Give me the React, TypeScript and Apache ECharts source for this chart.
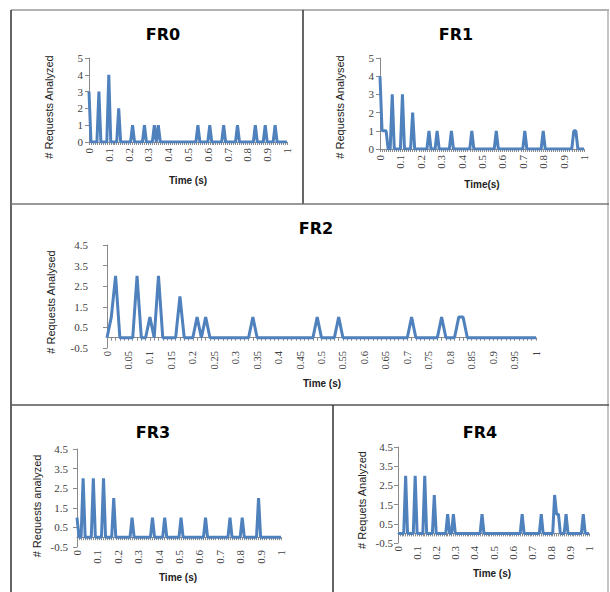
import React, { useEffect, useRef } from "react";
import * as echarts from "echarts";

// Time categories 0, 0.01, ... , 1
const TIME: string[] = Array.from({ length: 101 }, (_, i) => String(i / 100));

// # requests analysed per time slot
const FR0 = [
  3, 0, 0, 0, 0, 3, 0, 0, 0, 0,
  4, 0, 0, 0, 0, 2, 0, 0, 0, 0,
  0, 0, 1, 0, 0, 0, 0, 0, 1, 0,
  0, 0, 0, 1, 0, 1, 0, 0, 0, 0,
  0, 0, 0, 0, 0, 0, 0, 0, 0, 0,
  0, 0, 0, 0, 0, 1, 0, 0, 0, 0,
  0, 1, 0, 0, 0, 0, 0, 0, 1, 0,
  0, 0, 0, 0, 0, 1, 0, 0, 0, 0,
  0, 0, 0, 0, 1, 0, 0, 0, 0, 1,
  0, 0, 0, 0, 1, 0, 0, 0, 0, 0,
  0,
];
const FR1 = [
  4, 1, 1, 1, 0, 0, 3, 0, 0, 0,
  0, 3, 0, 0, 0, 0, 2, 0, 0, 0,
  0, 0, 0, 0, 1, 0, 0, 0, 1, 0,
  0, 0, 0, 0, 0, 1, 0, 0, 0, 0,
  0, 0, 0, 0, 0, 1, 0, 0, 0, 0,
  0, 0, 0, 0, 0, 0, 0, 1, 0, 0,
  0, 0, 0, 0, 0, 0, 0, 0, 0, 0,
  0, 1, 0, 0, 0, 0, 0, 0, 0, 0,
  1, 0, 0, 0, 0, 0, 0, 0, 0, 0,
  0, 0, 0, 0, 0, 1, 1, 0, 0, 0,
  0,
];
const FR2 = [
  0, 1, 3, 0, 0, 0, 0, 3, 0, 0,
  1, 0, 3, 0, 0, 0, 0, 2, 0, 0,
  0, 1, 0, 1, 0, 0, 0, 0, 0, 0,
  0, 0, 0, 0, 1, 0, 0, 0, 0, 0,
  0, 0, 0, 0, 0, 0, 0, 0, 0, 1,
  0, 0, 0, 0, 1, 0, 0, 0, 0, 0,
  0, 0, 0, 0, 0, 0, 0, 0, 0, 0,
  0, 1, 0, 0, 0, 0, 0, 0, 1, 0,
  0, 0, 1, 1, 0, 0, 0, 0, 0, 0,
  0, 0, 0, 0, 0, 0, 0, 0, 0, 0,
  0,
];
const FR3 = [
  1, 0, 0, 3, 0, 0, 0, 0, 3, 0,
  0, 0, 0, 3, 0, 0, 0, 0, 2, 0,
  0, 0, 0, 0, 0, 0, 0, 1, 0, 0,
  0, 0, 0, 0, 0, 0, 0, 1, 0, 0,
  0, 0, 0, 1, 0, 0, 0, 0, 0, 0,
  0, 1, 0, 0, 0, 0, 0, 0, 0, 0,
  0, 0, 0, 1, 0, 0, 0, 0, 0, 0,
  0, 0, 0, 0, 0, 1, 0, 0, 0, 0,
  0, 1, 0, 0, 0, 0, 0, 0, 0, 2,
  0, 0, 0, 0, 0, 0, 0, 0, 0, 0,
  0,
];
const FR4 = [
  0, 0, 0, 0, 3, 0, 0, 0, 0, 3,
  0, 0, 0, 0, 3, 0, 0, 0, 0, 2,
  0, 0, 0, 0, 0, 0, 1, 0, 0, 1,
  0, 0, 0, 0, 0, 0, 0, 0, 0, 0,
  0, 0, 0, 0, 1, 0, 0, 0, 0, 0,
  0, 0, 0, 0, 0, 0, 0, 0, 0, 0,
  0, 0, 0, 0, 0, 1, 0, 0, 0, 0,
  0, 0, 0, 0, 0, 1, 0, 0, 0, 0,
  0, 0, 2, 1, 1, 0, 0, 0, 1, 0,
  0, 0, 0, 0, 0, 0, 0, 1, 0, 0,
  0,
];

const TITLES = ["FR0", "FR1", "FR2", "FR3", "FR4"];
const Y_NAMES = [
  "# Requests Analyzed",
  "# Requests Analysed",
  "# Requests Analysed",
  "# Requests analyzed",
  "# Requets Analyzed",
];
const X_NAMES = ["Time (s)", "Time(s)", "Time (s)", "Time (s)", "Time (s)"];
const SERIES = [FR0, FR1, FR2, FR3, FR4];

const LAYOUT = [
  { grid: { left: 89, top: 58, width: 198, height: 84 }, yMin: 0, yMax: 5, lblInt: 9, xMargin: 6, yMargin: 6, xFont: 11, title: [163, 34], yName: [49, 107], xName: [188, 180] },
  { grid: { left: 380, top: 58, width: 204, height: 91 }, yMin: 0, yMax: 5, lblInt: 9, xMargin: 6, yMargin: 6, xFont: 11, title: [456, 34], yName: [340, 107], xName: [482, 184] },
  { grid: { left: 107, top: 245, width: 429, height: 103 }, yMin: -0.5, yMax: 4.5, lblInt: 4, xMargin: 3, yMargin: 19, xFont: 10.5, title: [316, 228], yName: [51, 302], xName: [322, 383] },
  { grid: { left: 77, top: 449, width: 204, height: 98 }, yMin: -0.5, yMax: 4.5, lblInt: 9, xMargin: 3, yMargin: 9, xFont: 11, title: [153, 432], yName: [37, 506], xName: [178, 577] },
  { grid: { left: 398, top: 447, width: 191, height: 96 }, yMin: -0.5, yMax: 4.5, lblInt: 9, xMargin: 3, yMargin: 5, xFont: 11, title: [480, 432], yName: [362, 500], xName: [492, 573] },
];

const AXIS = "#8a8a8a";
const LABEL = "#404040";
const LINE = "#4F81BD";

function App() {
  const ref = useRef<HTMLDivElement>(null);
  useEffect(() => {
    if (!ref.current) return;
    const chart = echarts.init(ref.current, undefined, { renderer: "svg" });

    const border = (x1: number, y1: number, x2: number, y2: number, c: string, w = 1.5) => ({
      type: "line",
      shape: { x1, y1, x2, y2 },
      style: { stroke: c, lineWidth: w },
      silent: true,
    });

    const graphic: any[] = [
      border(11, 10, 609, 10, "#9a9a9a"),
      border(11, 10, 11, 592, "#333"),
      border(608, 10, 608, 592, "#b0b0b0"),
      border(303, 10, 303, 204, "#333"),
      border(11, 204, 609, 204, "#777"),
      border(11, 405, 609, 405, "#555"),
      border(333, 405, 333, 592, "#333"),
    ];
    LAYOUT.forEach((p, i) => {
      graphic.push({
        type: "text",
        x: p.title[0],
        y: p.title[1],
        style: { text: TITLES[i], font: "bold 16px 'DejaVu Sans'", fill: "#000", align: "center", verticalAlign: "middle" },
      });
      graphic.push({
        type: "text",
        x: p.yName[0],
        y: p.yName[1],
        rotation: Math.PI / 2,
        style: { text: Y_NAMES[i], font: "11px 'Liberation Sans Narrow', 'Liberation Sans'", fill: "#222", align: "center", verticalAlign: "middle" },
      });
      graphic.push({
        type: "text",
        x: p.xName[0],
        y: p.xName[1],
        style: { text: X_NAMES[i], font: "bold 10px 'Liberation Sans'", fill: "#222", align: "center", verticalAlign: "middle" },
      });
    });

    const option: any = {
      animation: false,
      backgroundColor: "#fff",
      grid: LAYOUT.map((p) => ({ ...p.grid, containLabel: false })),
      xAxis: LAYOUT.flatMap((p, i) => [
        {
          type: "category",
          gridIndex: i,
          data: TIME,
          boundaryGap: false,
          position: "bottom",
          axisLine: { show: false, onZero: false },
          axisTick: { show: false },
          axisLabel: {
            interval: p.lblInt,
            rotate: 90,
            margin: p.xMargin,
            fontSize: p.xFont,
            fontFamily: "'Liberation Serif'",
            color: LABEL,
          },
          splitLine: { show: false },
        },
        {
          type: "category",
          gridIndex: i,
          data: TIME,
          boundaryGap: false,
          position: "bottom",
          axisLine: { show: true, onZero: true, lineStyle: { color: AXIS, width: 1 } },
          axisTick: { show: true, interval: 0, length: 3, lineStyle: { color: AXIS } },
          axisLabel: { show: false },
          splitLine: { show: false },
        },
      ]),
      yAxis: LAYOUT.map((p, i) => ({
        type: "value",
        gridIndex: i,
        min: p.yMin,
        max: p.yMax,
        interval: 1,
        axisLine: { show: true, lineStyle: { color: AXIS } },
        axisTick: { show: true, length: 4, lineStyle: { color: AXIS } },
        axisLabel: { margin: p.yMargin, fontSize: 11, fontFamily: "'Liberation Serif'", color: LABEL },
        splitLine: { show: false },
      })),
      series: SERIES.map((d, i) => ({
        type: "line",
        xAxisIndex: 2 * i,
        yAxisIndex: i,
        data: d,
        symbol: "none",
        lineStyle: { color: LINE, width: 3 },
        itemStyle: { color: LINE },
      })),
      graphic,
    };
    chart.setOption(option);
    return () => chart.dispose();
  }, []);

  return (
    <div
      ref={ref}
      style={{ position: "fixed", left: 0, top: 0, width: 610, height: 592, background: "#fff" }}
    />
  );
}

export default App;
